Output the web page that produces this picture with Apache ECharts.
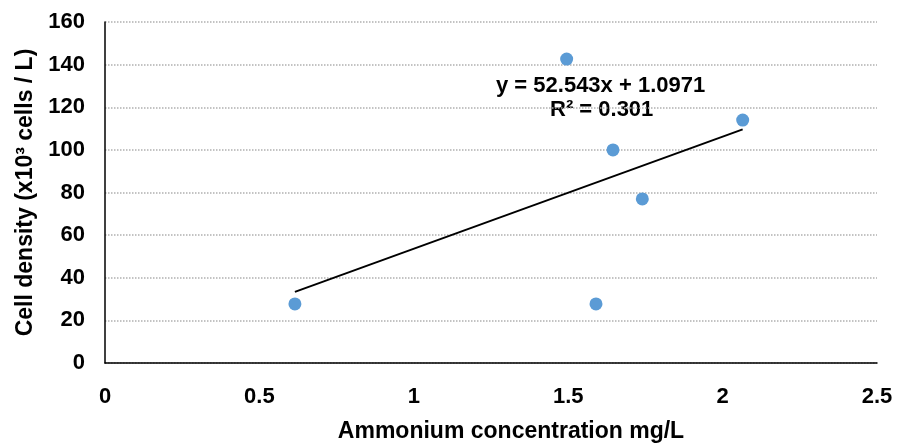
<!DOCTYPE html>
<html lang="en">
<head>
    <meta charset="UTF-8">
    <script src="https://cdn.jsdelivr.net/npm/echarts@6/dist/echarts.min.js"></script>
    <title>Cell density vs ammonium</title>
    <style>
        html, body { margin: 0; padding: 0; background: #fff; }
        #container { width: 902px; height: 443px; }
    </style>
</head>
<body>
<div id="container"></div>
<script type="application/javascript">
    // values
    const ammonium = [0.615, 1.495, 1.59, 1.645, 1.74, 2.065];
    const density = [27.7, 142.6, 27.7, 100, 77, 114];
    // trendline endpoints (y = 52.543x + 1.0971)
    const trendX = [0.615, 2.065];
    const trendY = [33.4, 109.6];
    const equationText = 'y = 52.543x + 1.0971';
    const r2Text = 'R² = 0.301';

    const font = 'Liberation Sans, Arial, sans-serif';
    const myChart = echarts.init(document.getElementById('container'), null, {renderer: 'canvas'});

    let points = ammonium.map((x, i) => [x, density[i]]);
    let trend = trendX.map((x, i) => [x, trendY[i]]);

    const option = {
        animation: false,
        grid: {left: 105, right: 25, top: 22, bottom: 80, outerBoundsMode: 'none'},
        xAxis: {
            type: 'value',
            min: 0,
            max: 2.5,
            interval: 0.5,
            name: 'Ammonium concentration mg/L',
            nameLocation: 'middle',
            nameGap: 57,
            nameTextStyle: {color: '#000', fontFamily: font, fontWeight: 'bold', fontSize: 23, padding: [0, 0, 0, 40]},
            axisLine: {show: true, onZero: false, lineStyle: {color: '#000', width: 1.5}},
            axisTick: {show: false},
            splitLine: {show: false},
            axisLabel: {color: '#000', fontFamily: font, fontWeight: 'bold', fontSize: 22, margin: 23}
        },
        yAxis: {
            type: 'value',
            min: 0,
            max: 160,
            interval: 20,
            name: 'Cell density (x10³ cells / L)',
            nameLocation: 'middle',
            nameGap: 67,
            nameTextStyle: {color: '#000', fontFamily: font, fontWeight: 'bold', fontSize: 23},
            axisLine: {show: true, lineStyle: {color: '#000', width: 1.5}},
            axisTick: {show: false},
            splitLine: {show: true, lineStyle: {color: '#b0b0b0', type: 'dotted', width: 1.5}},
            axisLabel: {color: '#000', fontFamily: font, fontWeight: 'bold', fontSize: 22, margin: 20}
        },
        graphic: [
            {
                type: 'text', left: 496, top: 75,
                style: {text: equationText, fill: '#000', font: 'bold 22px ' + font}
            },
            {
                type: 'text', left: 550, top: 99,
                style: {text: r2Text, fill: '#000', font: 'bold 22px ' + font}
            }
        ],
        series: [
            {
                type: 'line',
                data: trend,
                symbol: 'none',
                lineStyle: {color: '#000', width: 2},
                z: 2
            },
            {
                type: 'scatter',
                data: points,
                symbolSize: 13,
                itemStyle: {color: '#5b9bd5', opacity: 1},
                z: 3
            }
        ]
    };
    myChart.setOption(option);
</script>
</body>
</html>
